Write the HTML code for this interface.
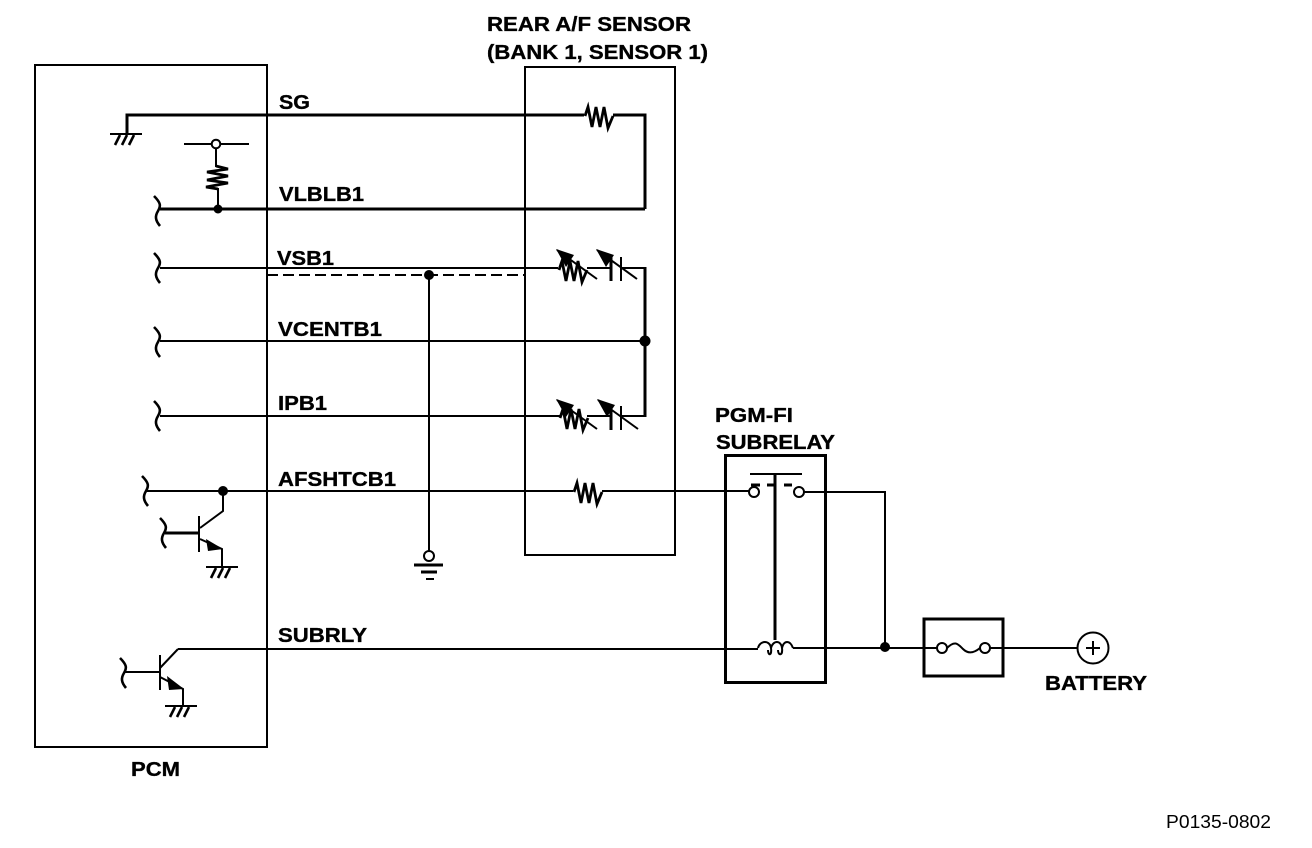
<!DOCTYPE html>
<html><head><meta charset="utf-8"><style>
html,body{margin:0;padding:0;background:#fff;width:1312px;height:848px;overflow:hidden}
svg{display:block}
text{font-family:"Liberation Sans",sans-serif;font-weight:bold;font-size:20px;fill:#000;stroke:#000;stroke-width:.35px}
.t{fill:none;stroke:#000;stroke-width:2}
.k{fill:none;stroke:#000;stroke-width:3}
.z{fill:none;stroke:#000;stroke-width:2.8;stroke-linejoin:miter}
.h{fill:none;stroke:#000;stroke-width:2.6}
</style></head><body>
<svg width="1312" height="848" viewBox="0 0 1312 848" xmlns="http://www.w3.org/2000/svg">
<defs>
<g id="sq"><path class="h" d="M-1,-15 C6,-8 6,-5 3,0 C0,5 0,9 5,15"/></g>
<g id="gnd"><path class="t" d="M-16,0H16"/><path class="h" d="M-6,1L-11,11M1,1L-4,11M8,1L3,11"/></g>
<g id="arr"><path class="t" d="M0,0L40,29"/><path d="M-1,-1L17,5L9,17Z" fill="#000"/></g>
<path id="rz" class="z" d="M0,0L3,-9L7,11L11,-9L15,11L19,-9L23,12L28,0"/>
</defs>

<!-- boxes -->
<rect class="t" x="35" y="65" width="232" height="682"/>
<rect class="t" x="525" y="67" width="150" height="488"/>
<rect class="k" x="725.500" y="455.500" width="100" height="227"/>
<rect class="k" x="924" y="619" width="79" height="57"/>

<!-- SG -->
<path class="k" d="M127,134V115H584"/>
<use href="#gnd" x="126" y="134"/>
<use href="#rz" x="585" y="116"/>
<path class="k" d="M613,115H645V209"/>

<!-- VLBLB1 -->
<path class="k" d="M160,209H645"/>
<use href="#sq" x="155" y="211"/>
<circle cx="218" cy="209" r="4.500"/>
<path class="t" d="M184,144H211M221,144H249M216,149V167M218,188V209"/>
<circle cx="216" cy="144" r="4.300" fill="#fff" stroke="#000" stroke-width="2"/>
<path class="z" d="M216,166L228,169L207,172L228,176L207,180L228,183L206,187L218,189"/>

<!-- VSB1 -->
<path class="t" d="M160,268H558"/>
<use href="#sq" x="155" y="268"/>
<path class="t" d="M267,275H525" stroke-dasharray="11 5"/>
<circle cx="429" cy="275" r="5"/>
<path class="t" d="M429,275V551"/>
<circle cx="429" cy="556" r="5" fill="#fff" stroke="#000" stroke-width="2"/>
<path class="k" d="M414,565H443M421,572H437"/>
<path class="t" d="M426,579H434"/>
<use href="#rz" x="559" y="270"/>
<use href="#arr" x="557" y="250"/>
<path class="t" d="M587,268H610M622,268H645"/>
<path class="k" d="M611,257V281"/><path class="t" d="M621,257V281"/>
<use href="#arr" x="597" y="250"/>

<!-- VCENTB1 -->
<path class="t" d="M160,341H645"/>
<use href="#sq" x="155" y="342"/>
<path class="k" d="M645,267V417"/>
<circle cx="645" cy="341" r="5.500"/>

<!-- IPB1 -->
<path class="t" d="M160,416H560"/>
<use href="#sq" x="155" y="416"/>
<use href="#rz" x="560" y="418"/>
<use href="#arr" x="557" y="400"/>
<path class="t" d="M587,416H610M622,416H645"/>
<path class="k" d="M611,406V430"/><path class="t" d="M621,406V430"/>
<use href="#arr" x="598" y="400"/>

<!-- AFSHTCB1 -->
<path class="t" d="M146,491H573"/>
<use href="#sq" x="143" y="491"/>
<use href="#rz" x="574" y="492"/>
<path class="t" d="M602,491H749"/>
<circle cx="223" cy="491" r="5"/>
<path class="t" d="M223,491V511L200,528"/>
<path class="t" d="M199,516V552"/>
<path class="k" d="M165,533H199"/>
<use href="#sq" x="161" y="533"/>
<path class="t" d="M200,539L222,549V567"/>
<path d="M206,539L223,549L208,551Z" fill="#000"/>
<use href="#gnd" x="222" y="567"/>

<!-- relay -->
<path class="t" d="M750,474H802"/>
<path class="k" d="M775,474V640"/>
<path class="k" d="M751,485H760M767,485H775M784,485H792"/>
<circle cx="754" cy="492" r="5" fill="#fff" stroke="#000" stroke-width="2"/>
<circle cx="799" cy="492" r="5" fill="#fff" stroke="#000" stroke-width="2"/>
<path class="t" d="M804,492H885V648"/>
<path class="t" d="M758,648C760,640 770,640 771,648C772,656 768,656 768,650M771,648C773,640 781,640 782,648C783,656 778,656 778,650M782,648C784,640 790,640 793,648"/>

<!-- SUBRLY -->
<path class="t" d="M125,672H160M160,655V690M178,649H758M178,649L160,668"/>
<use href="#sq" x="121" y="673"/>
<path class="t" d="M160,677L183,689V706"/>
<path d="M167,676L184,689L169,690Z" fill="#000"/>
<use href="#gnd" x="181" y="706"/>

<!-- fuse / battery -->
<path class="t" d="M793,648H937M990,648H1078"/>
<circle cx="885" cy="647" r="5"/>
<circle cx="942" cy="648" r="5" fill="#fff" stroke="#000" stroke-width="2"/>
<circle cx="985" cy="648" r="5" fill="#fff" stroke="#000" stroke-width="2"/>
<path class="t" d="M947,648C955,640 958,644 963,649C968,654 974,653 980,648"/>
<circle cx="1093" cy="648" r="15.500" fill="#fff" stroke="#000" stroke-width="2"/>
<path class="t" d="M1086,648H1100M1093,641V655"/>

<!-- labels -->
<text x="487" y="31" textLength="204" lengthAdjust="spacingAndGlyphs">REAR A/F SENSOR</text>
<text x="487" y="59" textLength="221" lengthAdjust="spacingAndGlyphs">(BANK 1, SENSOR 1)</text>
<text x="279" y="109" textLength="31" lengthAdjust="spacingAndGlyphs">SG</text>
<text x="279" y="201" textLength="85" lengthAdjust="spacingAndGlyphs">VLBLB1</text>
<text x="277" y="265" textLength="57" lengthAdjust="spacingAndGlyphs">VSB1</text>
<text x="278" y="336" textLength="104" lengthAdjust="spacingAndGlyphs">VCENTB1</text>
<text x="278" y="410" textLength="49" lengthAdjust="spacingAndGlyphs">IPB1</text>
<text x="278" y="486" textLength="118" lengthAdjust="spacingAndGlyphs">AFSHTCB1</text>
<text x="278" y="642" textLength="89" lengthAdjust="spacingAndGlyphs">SUBRLY</text>
<text x="131" y="776" textLength="49" lengthAdjust="spacingAndGlyphs">PCM</text>
<text x="715" y="422" textLength="78" lengthAdjust="spacingAndGlyphs">PGM-FI</text>
<text x="716" y="449" textLength="119" lengthAdjust="spacingAndGlyphs">SUBRELAY</text>
<text x="1045" y="690" textLength="102" lengthAdjust="spacingAndGlyphs">BATTERY</text>
<text x="1166" y="828" textLength="105" lengthAdjust="spacingAndGlyphs" style="font-weight:normal;font-size:18px;stroke:none">P0135-0802</text>
</svg>
</body></html>
